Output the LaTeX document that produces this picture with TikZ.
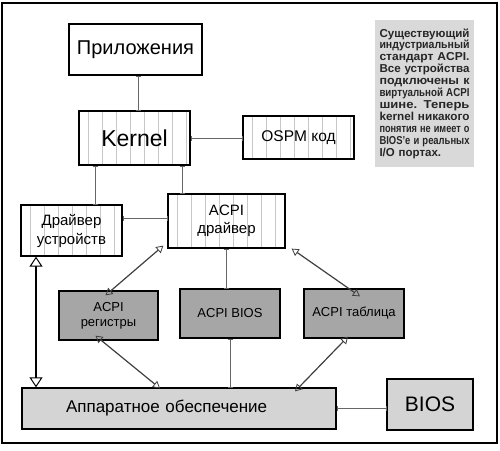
\documentclass[tikz,border=0pt]{standalone}
\usepackage{fontspec}
\usepackage{graphicx}
\setmainfont{Liberation Sans}
\usetikzlibrary{arrows.meta,calc}
\newcommand\jline[1]{\resizebox{90pt}{\height}{#1}\\}
\begin{document}
\begin{tikzpicture}[x=1pt,y=-1pt,
  box/.style={draw=black,line width=1.3pt,inner sep=0pt,align=center,fill=white},
  hatch/.style={path picture={
     \foreach \d in {9,23,...,230} {\draw[black!22,line width=0.8pt]
       ([xshift=\d pt]path picture bounding box.south west) --
       ([xshift=\d pt]path picture bounding box.north west);}}},
  darkbox/.style={box,fill=black!35},
  lightbox/.style={box,fill=black!17},
  thinlink/.style={draw=black!60,line width=0.8pt,
     {Bar[width=5pt,line width=0.6pt]}-{Bar[width=5pt,line width=0.6pt]}},
  diaglink/.style={draw=black!75,line width=1.2pt,
     {Triangle[open,length=7pt,width=8pt,line width=0.8pt]}-{Triangle[open,length=7pt,width=8pt,line width=0.8pt]}},
  biglink/.style={draw=black,line width=1.5pt,
     {Triangle[open,length=10pt,width=13pt,line width=1pt,fill=white]}-{Triangle[open,length=10pt,width=13pt,line width=1pt,fill=white]}}
]
\useasboundingbox (0,0) rectangle (500,450);
\fill[white] (0,0) rectangle (500,450);
\draw[line width=2pt] (2,3) rectangle (497,443);

\node[box,minimum width=133pt,minimum height=51pt,font=\fontsize{20}{24}\selectfont] (app) at (135.5,49.5) {Приложения};
\node[box,hatch,minimum width=111pt,minimum height=54pt,font=\fontsize{23}{27}\selectfont] (kernel) at (134.5,138) {Kernel};
\node[box,hatch,minimum width=111pt,minimum height=43pt,font=\fontsize{15.5}{18}\selectfont] (ospm) at (298.5,137.5) {OSPM код};
\node[draw=none,fill=black!15,minimum width=99pt,minimum height=147pt,inner sep=0pt,
      font=\bfseries\fontsize{11.5}{11.9}\selectfont,align=left,text width=90pt,text=black!85] (note) at (424.5,93.5)
  {\jline{Существующий}\jline{индустриальный}\jline{стандарт ACPI.}\jline{Все устройства}\jline{подключены к}\jline{виртуальной ACPI}\jline{шине. Теперь}\jline{kernel никакого}\jline{понятия не имеет о}\jline{BIOS'е и реальных}I/O портах.};
\node[box,hatch,minimum width=101pt,minimum height=51pt,font=\fontsize{15}{19}\selectfont] (drv) at (71.5,230.5) {Драйвер\\устройств};
\node[box,hatch,minimum width=117pt,minimum height=54pt,font=\fontsize{15}{18}\selectfont] (acpidrv) at (226.5,221) {ACPI\\драйвер};
\node[darkbox,minimum width=99pt,minimum height=49pt,font=\fontsize{13}{15}\selectfont] (regs) at (108.5,315.5) {ACPI\\регистры};
\node[darkbox,minimum width=100pt,minimum height=49pt,font=\fontsize{13}{15}\selectfont] (abios) at (230,313.5) {ACPI BIOS};
\node[darkbox,minimum width=100pt,minimum height=49pt,font=\fontsize{13}{15}\selectfont] (tabl) at (354,313.5) {ACPI таблица};
\node[lightbox,minimum width=314pt,minimum height=41pt,font=\fontsize{17}{20}\selectfont,text width=314pt,align=left] (hw) at (179,408.5) {\hspace*{44pt}Аппаратное обеспечение};
\node[lightbox,minimum width=86pt,minimum height=51pt,font=\fontsize{21}{24}\selectfont] (bios) at (430,404.5) {BIOS};

\coordinate (xa) at (138,0);
\coordinate (xk1) at (95,0);
\coordinate (xk2) at (182,0);
\coordinate (yd) at (0,218);
\coordinate (xl) at (36,0);

\draw[thinlink] (app.south -| xa) -- (kernel.north -| xa);
\draw[thinlink] (kernel.east) -- (kernel.east -| ospm.west);
\draw[thinlink] (kernel.south -| xk1) -- (drv.north -| xk1);
\draw[thinlink] (kernel.south -| xk2) -- (acpidrv.north -| xk2);
\draw[thinlink] (drv.east |- yd) -- (acpidrv.west |- yd);
\draw[thinlink] (acpidrv.south) -- (acpidrv.south |- abios.north);
\draw[thinlink] (abios.south) -- (abios.south |- hw.north);
\draw[thinlink] (hw.east) -- (hw.east -| bios.west);
\draw[diaglink] ([shift={(-4pt,3pt)}]acpidrv.south west) -- ([shift={(-3pt,-5pt)}]regs.north);
\draw[diaglink] ([shift={(6pt,0pt)}]acpidrv.south east) -- ([shift={(6pt,-8pt)}]tabl.north);
\draw[diaglink] ([shift={(-13pt,5pt)}]regs.south) -- ([shift={(-19pt,-1pt)}]hw.north);
\draw[diaglink] ([shift={(-6pt,2pt)}]tabl.south) -- ([shift={(116pt,-4pt)}]hw.north);
\draw[biglink] (drv.south -| xl) -- (hw.north -| xl);
\end{tikzpicture}
\end{document}
